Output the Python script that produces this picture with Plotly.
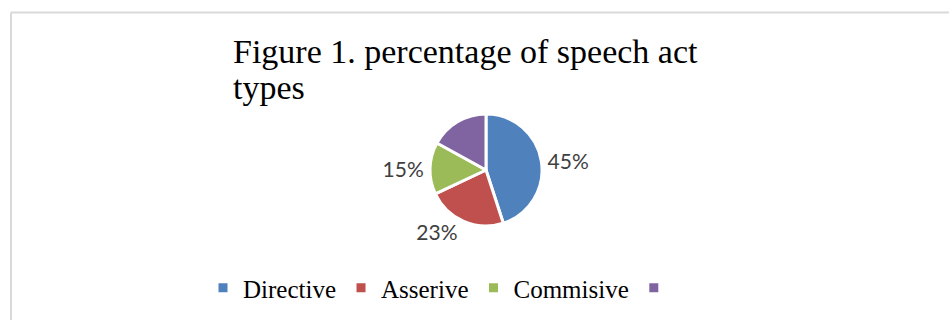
import plotly.graph_objects as go

categories = ["Directive", "Asserive", "Commisive", " "]
values = [45, 23, 15, 17]
label_texts = ["45%", "23%", "15%", ""]
colors = ["#4f81bd", "#c0504d", "#9bbb59", "#8064a2"]
title_line1 = "Figure 1. percentage of speech act"
title_line2 = "types"

W, H = 949, 320
cx, cy, r = 486, 170, 56

fig = go.Figure(go.Pie(
    labels=categories,
    values=values,
    text=label_texts,
    textinfo="text",
    textposition="outside",
    sort=False,
    direction="clockwise",
    rotation=0,
    marker=dict(colors=colors, line=dict(color="white", width=3)),
    outsidetextfont=dict(family="Lato, Open Sans, sans-serif", size=21, color="#404040"),
    domain=dict(x=[(cx - r) / W, (cx + r) / W], y=[(H - cy - r) / H, (H - cy + r) / H]),
    automargin=False,
    hoverinfo="label+percent",
))

serif = "Liberation Serif, Times New Roman, serif"
fig.update_layout(
    width=W, height=H,
    margin=dict(l=0, r=0, t=0, b=0),
    paper_bgcolor="white",
    plot_bgcolor="white",
    showlegend=True,
    legend=dict(
        orientation="h",
        x=203 / W, xanchor="left",
        y=(H - 288) / H, yanchor="middle",
        font=dict(family=serif, size=25, color="#000000"),
        itemwidth=30,
        traceorder="normal",
    ),
    annotations=[
        dict(text=title_line1, x=231 / W, xref="paper", xanchor="left",
             y=(H - 52) / H, yref="paper", yanchor="middle", showarrow=False,
             font=dict(family=serif, size=34, color="#000000")),
        dict(text=title_line2, x=231 / W, xref="paper", xanchor="left",
             y=(H - 87) / H, yref="paper", yanchor="middle", showarrow=False,
             font=dict(family=serif, size=34, color="#000000")),
    ],
    shapes=[
        dict(type="line", xref="paper", yref="paper", x0=11 / W, x1=1, y0=(H - 12.5) / H, y1=(H - 12.5) / H,
             line=dict(color="#d9d9d9", width=2)),
        dict(type="line", xref="paper", yref="paper", x0=11 / W, x1=11 / W, y0=0, y1=(H - 12.5) / H,
             line=dict(color="#d9d9d9", width=2)),
    ],
)

fig.write_html("out.html")
